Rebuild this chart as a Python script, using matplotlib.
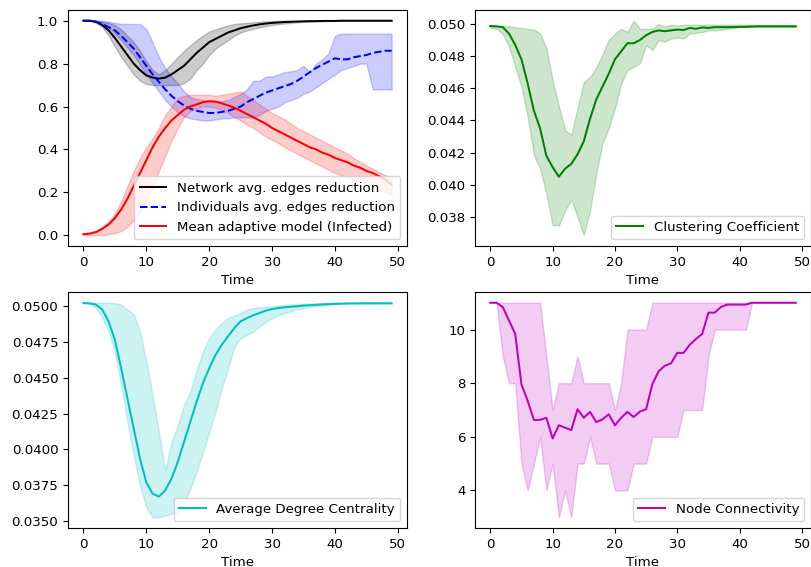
import numpy as np
import matplotlib
matplotlib.use("Agg")
import matplotlib.pyplot as plt

plt.rcParams["font.size"] = 9.6
plt.rcParams["lines.linewidth"] = 1.45

time = np.arange(50)

# network avg. edges reduction
net_mean = [1.0, 1.0, 0.995, 0.98, 0.955, 0.92, 0.88, 0.84, 0.80, 0.77,
            0.745, 0.735, 0.73, 0.735, 0.75, 0.77, 0.79, 0.82, 0.85, 0.875,
            0.9, 0.915, 0.93, 0.945, 0.955, 0.965, 0.972, 0.978, 0.983, 0.987,
            0.99, 0.992, 0.994, 0.995, 0.996, 0.997, 0.998, 0.998, 0.999, 0.999,
            0.999, 1.0, 1.0, 1.0, 1.0, 1.0, 1.0, 1.0, 1.0, 1.0]
net_low = [1.0, 1.0, 0.99, 0.97, 0.93, 0.88, 0.83, 0.79, 0.75, 0.72,
           0.705, 0.70, 0.70, 0.70, 0.70, 0.70, 0.71, 0.73, 0.77, 0.80,
           0.84, 0.87, 0.89, 0.91, 0.93, 0.945, 0.955, 0.962, 0.97, 0.975,
           0.98, 0.984, 0.987, 0.99, 0.993, 0.995, 0.996, 0.997, 0.998, 0.999,
           0.999, 1.0, 1.0, 1.0, 1.0, 1.0, 1.0, 1.0, 1.0, 1.0]
net_high = [1.0, 1.0, 1.0, 0.995, 0.99, 0.98, 0.96, 0.93, 0.90, 0.86,
            0.81, 0.77, 0.75, 0.77, 0.80, 0.83, 0.86, 0.885, 0.91, 0.93,
            0.95, 0.96, 0.97, 0.978, 0.985, 0.988, 0.99, 0.993, 0.995, 0.997,
            0.998, 0.999, 1.0, 1.0, 1.0, 1.0, 1.0, 1.0, 1.0, 1.0,
            1.0, 1.0, 1.0, 1.0, 1.0, 1.0, 1.0, 1.0, 1.0, 1.0]

# individuals avg. edges reduction
ind_mean = [1.0, 1.0, 0.995, 0.985, 0.97, 0.955, 0.93, 0.90, 0.87, 0.83,
            0.79, 0.75, 0.715, 0.68, 0.65, 0.625, 0.605, 0.59, 0.58, 0.575,
            0.57, 0.57, 0.575, 0.58, 0.59, 0.60, 0.62, 0.635, 0.65, 0.665,
            0.675, 0.685, 0.695, 0.705, 0.72, 0.74, 0.76, 0.78, 0.795, 0.81,
            0.825, 0.82, 0.82, 0.83, 0.835, 0.84, 0.85, 0.855, 0.86, 0.86]
ind_low = [1.0, 1.0, 1.0, 0.99, 0.97, 0.94, 0.91, 0.875, 0.84, 0.795,
           0.75, 0.71, 0.67, 0.63, 0.60, 0.575, 0.555, 0.545, 0.54, 0.535,
           0.535, 0.54, 0.545, 0.545, 0.55, 0.55, 0.55, 0.55, 0.56, 0.58,
           0.59, 0.60, 0.62, 0.63, 0.64, 0.66, 0.67, 0.69, 0.71, 0.73,
           0.75, 0.77, 0.78, 0.79, 0.80, 0.80, 0.68, 0.68, 0.68, 0.68]
ind_high = [1.0, 1.0, 1.0, 1.0, 0.995, 0.99, 0.985, 0.985, 0.985, 0.985,
            0.96, 0.90, 0.83, 0.78, 0.74, 0.71, 0.67, 0.645, 0.635, 0.63,
            0.625, 0.62, 0.625, 0.63, 0.645, 0.66, 0.68, 0.72, 0.72, 0.74,
            0.74, 0.75, 0.76, 0.765, 0.77, 0.79, 0.76, 0.80, 0.82, 0.85,
            0.93, 0.94, 0.94, 0.94, 0.94, 0.94, 0.94, 0.94, 0.94, 0.94]

# mean adaptive model (infected)
inf_mean = [0.005, 0.008, 0.015, 0.03, 0.05, 0.08, 0.12, 0.17, 0.23, 0.29,
            0.35, 0.41, 0.46, 0.50, 0.535, 0.56, 0.585, 0.60, 0.61, 0.62,
            0.625, 0.623, 0.615, 0.605, 0.595, 0.58, 0.565, 0.55, 0.535, 0.52,
            0.50, 0.485, 0.47, 0.455, 0.44, 0.425, 0.41, 0.40, 0.385, 0.375,
            0.36, 0.35, 0.34, 0.325, 0.315, 0.30, 0.29, 0.275, 0.26, 0.235]
inf_low = [0.0, 0.0, 0.0, 0.002, 0.005, 0.01, 0.02, 0.04, 0.07, 0.11,
           0.16, 0.22, 0.30, 0.37, 0.44, 0.50, 0.55, 0.58, 0.59, 0.60,
           0.60, 0.595, 0.585, 0.57, 0.55, 0.535, 0.515, 0.50, 0.48, 0.46,
           0.445, 0.43, 0.41, 0.395, 0.38, 0.365, 0.35, 0.335, 0.32, 0.305,
           0.29, 0.28, 0.27, 0.26, 0.25, 0.24, 0.23, 0.215, 0.20, 0.19]
inf_high = [0.005, 0.01, 0.02, 0.04, 0.065, 0.10, 0.16, 0.23, 0.30, 0.36,
            0.41, 0.45, 0.50, 0.56, 0.60, 0.64, 0.65, 0.655, 0.655, 0.655,
            0.655, 0.65, 0.655, 0.66, 0.665, 0.67, 0.65, 0.63, 0.61, 0.59,
            0.57, 0.555, 0.54, 0.52, 0.50, 0.485, 0.47, 0.455, 0.44, 0.425,
            0.41, 0.395, 0.38, 0.36, 0.34, 0.325, 0.31, 0.295, 0.28, 0.27]

# clustering coefficient
cc_mean = [0.04987, 0.04985, 0.0498, 0.0494, 0.0487, 0.0478, 0.0463, 0.0446, 0.0435, 0.0418,
           0.0411, 0.0405, 0.0410, 0.0413, 0.0419, 0.0427, 0.0441, 0.0453, 0.0461, 0.0469,
           0.0478, 0.0483, 0.0488, 0.0488, 0.0490, 0.0493, 0.0495, 0.0496, 0.04955, 0.0496,
           0.04965, 0.04962, 0.04975, 0.0497, 0.04978, 0.04975, 0.0498, 0.0498, 0.0498, 0.0498,
           0.04982, 0.04982, 0.04984, 0.04985, 0.04985, 0.04985, 0.04985, 0.04985, 0.04985, 0.04985]
cc_low = [0.04975, 0.0497, 0.04938, 0.04859, 0.04734, 0.0461, 0.04423, 0.04184, 0.0410, 0.03945,
          0.03748, 0.03748, 0.03841, 0.03908, 0.0380, 0.03686, 0.0384, 0.0407, 0.04257, 0.0435,
          0.04475, 0.0463, 0.04713, 0.04734, 0.04755, 0.04869, 0.04838, 0.0490, 0.0489, 0.0491,
          0.04915, 0.0491, 0.0494, 0.04945, 0.0495, 0.0496, 0.0496, 0.04965, 0.0497, 0.04975,
          0.0498, 0.0498, 0.04982, 0.04982, 0.04982, 0.04982, 0.04982, 0.04982, 0.04982, 0.04982]
cc_high = [0.04988, 0.04988, 0.04987, 0.04985, 0.0498, 0.04975, 0.0497, 0.04965, 0.0494, 0.0485,
           0.0465, 0.0449, 0.0434, 0.0431, 0.0448, 0.0464, 0.0467, 0.0473, 0.0481, 0.0490,
           0.0494, 0.0497, 0.0495, 0.0502, 0.0497, 0.0497, 0.0497, 0.0500, 0.04985, 0.04995,
           0.0499, 0.04995, 0.04995, 0.04995, 0.04995, 0.04995, 0.04995, 0.04995, 0.04995, 0.04995,
           0.04995, 0.04995, 0.04995, 0.04995, 0.04995, 0.04995, 0.04995, 0.04995, 0.04995, 0.04995]

# average degree centrality
dc_mean = [0.05023, 0.0502, 0.05012, 0.04977, 0.04895, 0.04766, 0.04567, 0.04356, 0.04146, 0.03935,
           0.03771, 0.0369, 0.03671, 0.03713, 0.03795, 0.03912, 0.04052, 0.04193, 0.04333, 0.04462,
           0.04567, 0.0466, 0.04731, 0.0479, 0.04848, 0.04895, 0.04918, 0.04937, 0.04953, 0.0497,
           0.04981, 0.04988, 0.04993, 0.04997, 0.0500, 0.05005, 0.05008, 0.0501, 0.05013, 0.05015,
           0.05017, 0.05018, 0.0502, 0.0502, 0.05021, 0.05021, 0.05021, 0.05021, 0.05021, 0.05021]
dc_low = [0.05023, 0.0502, 0.04988, 0.04918, 0.04824, 0.04684, 0.0445, 0.04193, 0.03958, 0.03748,
          0.03596, 0.03526, 0.03526, 0.03537, 0.03549, 0.03561, 0.0362, 0.03725, 0.03842, 0.03982,
          0.04122, 0.04263, 0.04427, 0.04567, 0.04719, 0.04778, 0.04801, 0.04824, 0.0486, 0.0489,
          0.04918, 0.04937, 0.04953, 0.04967, 0.0498, 0.04988, 0.04995, 0.0500, 0.05005, 0.0501,
          0.05015, 0.05018, 0.0502, 0.0502, 0.0502, 0.0502, 0.0502, 0.0502, 0.0502, 0.0502]
dc_high = [0.05025, 0.05025, 0.05025, 0.05025, 0.05025, 0.05022, 0.05012, 0.04977, 0.04946, 0.04824,
           0.04614, 0.0438, 0.04122, 0.03853, 0.04052, 0.04169, 0.0431, 0.04403, 0.04556, 0.04684,
           0.04778, 0.04836, 0.04883, 0.04918, 0.04937, 0.04953, 0.04977, 0.04988, 0.04993, 0.04997,
           0.0500, 0.05005, 0.0501, 0.05012, 0.05015, 0.05018, 0.0502, 0.05022, 0.05023, 0.05024,
           0.05025, 0.05025, 0.05025, 0.05025, 0.05025, 0.05025, 0.05025, 0.05025, 0.05025, 0.05025]

# node connectivity
nc_mean = [11, 11, 10.84, 10.34, 9.84, 7.96, 7.34, 6.63, 6.63, 6.71,
           5.94, 6.43, 6.34, 6.25, 7.03, 6.71, 6.93, 6.55, 6.65, 6.84,
           6.43, 6.71, 6.93, 6.74, 6.94, 7.03, 7.96, 8.44, 8.65, 8.74,
           9.13, 9.13, 9.43, 9.65, 9.84, 10.63, 10.63, 10.84, 10.93, 10.93,
           10.93, 10.93, 11, 11, 11, 11, 11, 11, 11, 11]
nc_low = [11, 11, 9, 8, 8, 5, 4, 5, 6, 4,
          5, 3, 4, 3, 5, 5, 6, 5, 5, 5,
          4, 4, 4, 5, 5, 5, 6, 6, 6, 6,
          6, 7, 7, 7, 7, 9, 10, 10, 10, 10,
          10, 10, 11, 11, 11, 11, 11, 11, 11, 11]
nc_high = [11, 11, 11, 11, 11, 11, 11, 11, 11, 9,
           7, 8, 8, 8, 9, 8, 8, 8, 8, 8,
           7, 8, 10, 10, 10, 10, 11, 11, 11, 11,
           11, 11, 11, 11, 11, 11, 11, 11, 11, 11,
           11, 11, 11, 11, 11, 11, 11, 11, 11, 11]

fig = plt.figure(figsize=(8.12, 5.67), dpi=100)
W, H = 812.0, 567.0
ax1 = fig.add_axes([68 / W, (H - 246) / H, 339 / W, 236 / H])
ax2 = fig.add_axes([475 / W, (H - 246) / H, 336 / W, 236 / H])
ax3 = fig.add_axes([68 / W, (H - 528) / H, 339 / W, 236 / H])
ax4 = fig.add_axes([475 / W, (H - 528) / H, 336 / W, 236 / H])

# panel 1
ax1.plot(time, net_mean, "k-", label="Network avg. edges reduction")
ax1.fill_between(time, net_low, net_high, color="k", alpha=0.2)
ax1.plot(time, ind_mean, "b--", label="Individuals avg. edges reduction")
ax1.fill_between(time, ind_low, ind_high, color="b", alpha=0.2)
ax1.plot(time, inf_mean, "r-", label="Mean adaptive model (Infected)")
ax1.fill_between(time, inf_low, inf_high, color="r", alpha=0.2)
ax1.legend(loc="lower right")
ax1.set_xlabel("Time")

# panel 2
ax2.plot(time, cc_mean, "g-", label="Clustering Coefficient")
ax2.fill_between(time, cc_low, cc_high, color="g", alpha=0.2)
ax2.legend(loc="lower right")
ax2.set_xlabel("Time")

# panel 3
ax3.plot(time, dc_mean, "c-", label="Average Degree Centrality")
ax3.fill_between(time, dc_low, dc_high, color="c", alpha=0.2)
ax3.legend(loc="lower right")
ax3.set_xlabel("Time")

# panel 4
ax4.plot(time, nc_mean, "m-", label="Node Connectivity")
ax4.fill_between(time, nc_low, nc_high, color="m", alpha=0.2)
ax4.legend(loc="lower right")
ax4.set_xlabel("Time")

fig.savefig("out.png", dpi=100)
